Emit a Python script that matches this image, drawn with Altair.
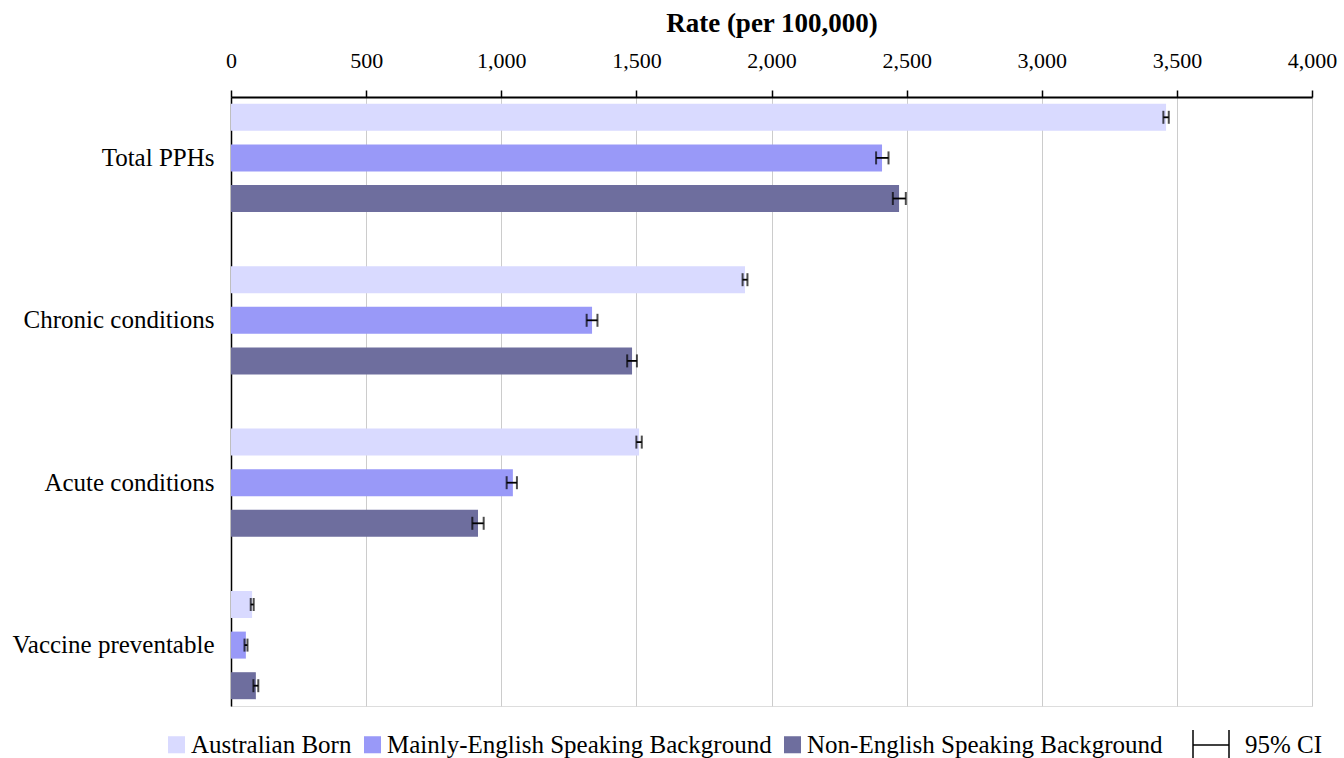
import altair as alt
import pandas as pd

# PPH rates per 100,000 by country-of-birth group, with 95% confidence intervals
categories = ["Total PPHs", "Chronic conditions", "Acute conditions", "Vaccine preventable"]
series = ["Australian Born", "Mainly-English Speaking Background", "Non-English Speaking Background"]
colors = ["#D9DAFF", "#9999F8", "#6E6E9E"]

rate_australian = [3460, 1902, 1510, 78]
rate_mesb = [2409, 1336, 1043, 55]
rate_nesb = [2472, 1484, 914, 92]

ci_low_australian = [3450, 1893, 1500, 73]
ci_high_australian = [3470, 1911, 1520, 84]
ci_low_mesb = [2387, 1316, 1020, 50]
ci_high_mesb = [2433, 1356, 1058, 61]
ci_low_nesb = [2449, 1466, 893, 83]
ci_high_nesb = [2497, 1502, 935, 101]

ticks = [0, 500, 1000, 1500, 2000, 2500, 3000, 3500, 4000]

rows = []
for s, rates, lo, hi in [
    (series[0], rate_australian, ci_low_australian, ci_high_australian),
    (series[1], rate_mesb, ci_low_mesb, ci_high_mesb),
    (series[2], rate_nesb, ci_low_nesb, ci_high_nesb),
]:
    for c, r, l, h in zip(categories, rates, lo, hi):
        rows.append({"category": c, "series": s, "rate": r, "lo": l, "hi": h})
df = pd.DataFrame(rows)

FONT = "Liberation Serif"
W, H = 1081, 609

y_enc = alt.Y(
    "category:N",
    sort=categories,
    scale=alt.Scale(paddingInner=0.25, paddingOuter=0),
    axis=alt.Axis(
        title=None, ticks=False, labelPadding=17, labelFontSize=25,
        labelFont=FONT, labelColor="black", domainColor="black", domainWidth=1.5,
        labelLimit=300,
    ),
)
yoff = alt.YOffset(
    "series:N", sort=series,
    scale=alt.Scale(paddingInner=0.335, paddingOuter=0.1675),
)

x_scale = alt.Scale(domain=[0, 4000], nice=False)

bars = alt.Chart(df).mark_bar().encode(
    x=alt.X(
        "rate:Q",
        scale=x_scale,
        axis=alt.Axis(
            orient="top", values=ticks, format=",.0f", title="Rate (per 100,000)",
            titleFont=FONT, titleFontSize=27, titleFontWeight="bold", titleColor="black",
            titlePadding=12,
            labelFont=FONT, labelFontSize=22, labelColor="black", labelPadding=18,
            labelFlush=False,
            tickColor="black", tickSize=7, tickWidth=1.5,
            domainColor="black", domainWidth=2,
            grid=True, gridColor="#CCCCCC", gridWidth=1,
        ),
    ),
    y=y_enc,
    yOffset=yoff,
    color=alt.Color(
        "series:N", sort=series,
        scale=alt.Scale(domain=series, range=colors),
        legend=alt.Legend(
            title=None, orient="none", direction="horizontal", columns=3,
            legendX=-67, legendY=635,
            symbolType="square", symbolSize=290, symbolStrokeWidth=0,
            labelFont=FONT, labelFontSize=25, labelColor="black",
            labelOffset=2, columnPadding=8, labelLimit=500,
        ),
    ),
)

err = alt.Chart(df).mark_rule(color="black", strokeWidth=1.8).encode(
    x=alt.X("lo:Q", scale=x_scale),
    x2="hi:Q",
    y=y_enc,
    yOffset=yoff,
)
caps_lo = alt.Chart(df).mark_tick(color="black", orient="vertical", size=13, thickness=2).encode(
    x=alt.X("lo:Q", scale=x_scale), y=y_enc, yOffset=yoff,
)
caps_hi = alt.Chart(df).mark_tick(color="black", orient="vertical", size=13, thickness=2).encode(
    x=alt.X("hi:Q", scale=x_scale), y=y_enc, yOffset=yoff,
)

# legend key for the confidence interval whiskers
ci_key = pd.DataFrame({"label": ["95% CI"]})
ci_line = alt.Chart(ci_key).mark_rule(color="black", strokeWidth=1.5).encode(
    x=alt.value(962), x2=alt.value(998), y=alt.value(648)
)
ci_cap_l = alt.Chart(ci_key).mark_rule(color="black", strokeWidth=1.5).encode(
    x=alt.value(962), y=alt.value(633), y2=alt.value(662)
)
ci_cap_r = alt.Chart(ci_key).mark_rule(color="black", strokeWidth=1.5).encode(
    x=alt.value(998), y=alt.value(633), y2=alt.value(662)
)
ci_text = alt.Chart(ci_key).mark_text(
    align="left", baseline="middle", font=FONT, fontSize=25, color="black"
).encode(x=alt.value(1014), y=alt.value(648), text="label:N")

chart = alt.layer(
    bars, err, caps_lo, caps_hi, ci_line, ci_cap_l, ci_cap_r, ci_text
).properties(
    width=W, height=H,
    autosize=alt.AutoSizeParams(type="none"),
    padding={"left": 231, "top": 97, "right": 32, "bottom": 52},
).configure_view(
    stroke="#555555", strokeWidth=1.5,
).configure(background="white")

chart.save("out.html", embed_options={"renderer": "svg", "actions": False})
